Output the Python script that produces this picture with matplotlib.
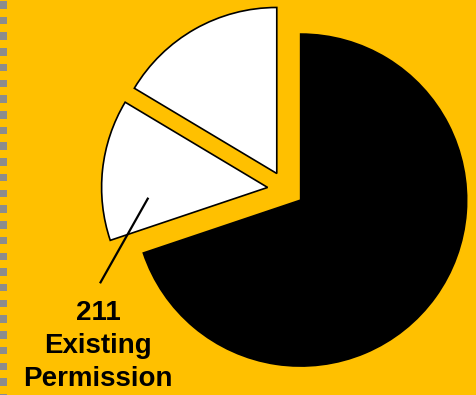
import numpy as np
import matplotlib
matplotlib.use("Agg")
import matplotlib.pyplot as plt
from matplotlib.patches import Rectangle

# Permission counts
categories = ["Other Permission", "Existing Permission", "Remaining"]
values = [252, 211, 1072]
colors = ["white", "white", "black"]
label_text = "211\nExisting\nPermission"

W, H = 477, 395
bg = "#FFC000"

fig = plt.figure(figsize=(W / 100, H / 100), dpi=100, facecolor=bg)
ax = fig.add_axes([0, 0, 1, 1])
ax.set_facecolor(bg)

center = (285.8, H - 189.4)
radius = 166
gap = 18.3  # explode offset, in data units
wedges, _ = ax.pie(values, colors=colors, startangle=90, counterclock=True,
                   explode=[gap] * len(values), center=center, radius=radius,
                   wedgeprops=dict(edgecolor="black", linewidth=1.2),
                   frame=True)
ax.set_xlim(0, W)
ax.set_ylim(0, H)
ax.set_aspect("equal")
ax.axis("off")

# dashed grey border on the left edge
for y0 in np.arange(1, H, 15.72):
    ax.add_patch(Rectangle((0, H - y0 - 7.5), 7, 7.5, facecolor="#8c8c8c",
                           edgecolor="none"))

# leader line and label for the "Existing Permission" slice
ax.plot([148.3, 100], [H - 197.7, H - 283.3], color="black", lw=1.6,
        solid_capstyle="butt")
ax.text(98, H - 346, label_text, ha="center", va="center", fontsize=20,
        fontweight="bold", family="Liberation Sans", linespacing=1.35,
        color="black")

fig.savefig("out.png", dpi=100, facecolor=bg)
